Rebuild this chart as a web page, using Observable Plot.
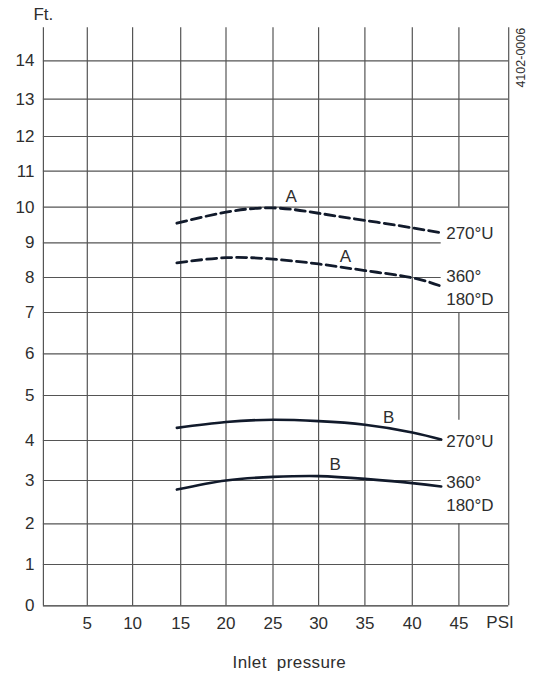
<!DOCTYPE html>
<html>
<head>
<meta charset="utf-8">
<script src="https://cdn.jsdelivr.net/npm/d3@7"></script>
<script src="https://cdn.jsdelivr.net/npm/@observablehq/plot@0.6"></script>
<style>
  html, body { margin: 0; padding: 0; background: #fff; }
</style>
</head>
<body>
<div id="chart"></div>
<script>
// ---- data ----
const xTicks = [5, 10, 15, 20, 25, 30, 35, 40, 45];
const yTicks = [0, 1, 2, 3, 4, 5, 6, 7, 8, 9, 10, 11, 12, 13, 14];
const pressure = [14.6, 20, 25, 30, 35, 40, 43.1];
const seriesA270U = [9.55, 9.86, 9.98, 9.83, 9.63, 9.42, 9.28];
const seriesA360D = [8.42, 8.57, 8.53, 8.39, 8.20, 7.99, 7.75];
const seriesB270U = [4.28, 4.41, 4.46, 4.43, 4.35, 4.18, 4.02];
const seriesB360D = [2.79, 3.00, 3.09, 3.11, 3.04, 2.94, 2.86];

const seriesLetters = ["A", "A", "B", "B"];
const letterX = [27, 32.9, 37.5, 31.8];
const letterY = [10.3, 8.6, 4.52, 3.4];

const endLabels = ["270°U", "360°\n180°D", "270°U", "360°\n180°D"];
const endLabelY = [9.3, 7.75, 4.02, 2.73];

// grid structure (data units)
const fullVertical = [0, 5, 10, 15, 20, 25, 30, 35, 40, 50];
const fullHorizontal = [1, 2, 5, 6, 7, 10, 11, 12, 13, 14];
const shortHorizontal = [3, 4, 8, 9];
const shortHorizontalEnd = 43.1;
const gridTop = 15;
const line45Segments = [[10, 15], [4.45, 7], [0, 2]];

// ---- the hand-drawn (non-uniform) grid of the original paper chart ----
const xBreaks = [0, 5, 10, 15, 20, 25, 30, 35, 40, 45, 50];
const yBreaks = [0, 1, 2, 3, 4, 5, 6, 7, 8, 9, 10, 11, 12, 13, 14, 15];
const X = d3.scaleLinear().domain(xBreaks)
  .range([42.9, 86.8, 132.1, 180.2, 225.5, 272.5, 318.1, 364.4, 411.8, 458.4, 508.2]);
const Y = d3.scaleLinear().domain(yBreaks)
  .range([605.3, 564, 523.3, 480, 440, 395, 353.3, 312, 277, 242.3, 206.7, 170.7, 136, 98.7, 60.3, 27.3]);

// ---- build tables ----
const curves = [
  {name: "A270", dashed: true, vals: seriesA270U},
  {name: "A360", dashed: true, vals: seriesA360D},
  {name: "B270", dashed: false, vals: seriesB270U},
  {name: "B360", dashed: false, vals: seriesB360D}
];
const curveRows = c => pressure.map((p, i) => ({x: p, y: c.vals[i], name: c.name}));
const letters = seriesLetters.map((t, i) => ({t, x: letterX[i], y: letterY[i]}));
const ends = endLabels.map((t, i) => ({t, x: pressure[pressure.length - 1], y: endLabelY[i]}));
const seg45 = line45Segments.map(([a, b]) => ({x: 45, y1: a, y2: b}));

const ink = "#111a2b";
const gridColor = "#555";
const textColor = "#2e2e2e";
const fx = d => X(d.x), fy = d => Y(d.y);

const chart = Plot.plot({
  width: 538,
  height: 682,
  marginLeft: 42.9,
  marginRight: 29.8,
  marginTop: 27.3,
  marginBottom: 76.7,
  style: {fontSize: "17px", fontFamily: "'Liberation Sans', Arial, Helvetica, sans-serif", color: textColor, background: "#fff"},
  x: {
    domain: [X(0), X(50)],
    ticks: xTicks.map(X), tickFormat: v => String(Math.round(X.invert(v))),
    tickSize: 0, tickPadding: 11, label: null
  },
  y: {
    domain: [Y(0), Y(15)],
    ticks: yTicks.map(Y), tickFormat: v => String(Math.round(Y.invert(v))),
    tickSize: 0, tickPadding: 9, label: null
  },
  marks: [
    Plot.ruleX(fullVertical, {x: d => X(d), y1: Y(0), y2: Y(gridTop), stroke: gridColor, strokeWidth: 1.2}),
    Plot.ruleX(seg45, {x: fx, y1: d => Y(d.y1), y2: d => Y(d.y2), stroke: gridColor, strokeWidth: 1.2}),
    Plot.ruleY(fullHorizontal, {y: d => Y(d), x1: X(0), x2: X(50), stroke: gridColor, strokeWidth: 1.2}),
    Plot.ruleY(shortHorizontal, {y: d => Y(d), x1: X(0), x2: X(shortHorizontalEnd), stroke: gridColor, strokeWidth: 1.2}),
    Plot.ruleY([0], {y: d => Y(d), x1: X(0), x2: X(50), stroke: "#333", strokeWidth: 1.3}),
    ...curves.map(c => Plot.line(curveRows(c), {
      x: fx, y: fy, curve: "natural", stroke: ink,
      strokeWidth: c.dashed ? 2.8 : 2.6,
      strokeDasharray: c.dashed ? "10,5" : null
    })),
    Plot.text(letters, {x: fx, y: fy, text: "t", fill: textColor}),
    Plot.text(ends, {x: fx, y: fy, text: "t", textAnchor: "start", dx: 5, lineHeight: 1.35, fill: textColor}),
    Plot.text(["Ft."], {x: X(0), y: Y(gridTop), dy: -13, textAnchor: "middle", fill: textColor}),
    Plot.text(["4102-0006"], {x: X(50), y: Y(gridTop), dx: 12, rotate: -90, textAnchor: "end", fontSize: 12.5, fill: textColor}),
    Plot.text(["PSI"], {x: X(47.75), y: Y(0), dy: 17, textAnchor: "start", fill: textColor}),
    Plot.text(["Inlet pressure"], {x: X(26.8), y: Y(0), dy: 57, textAnchor: "middle", fill: textColor})
  ]
});
d3.select(chart).selectAll("text").filter(function() { return this.textContent === "Inlet pressure"; })
  .style("letter-spacing", "0.4px").style("word-spacing", "5px");
document.getElementById("chart").appendChild(chart);
</script>
</body>
</html>
